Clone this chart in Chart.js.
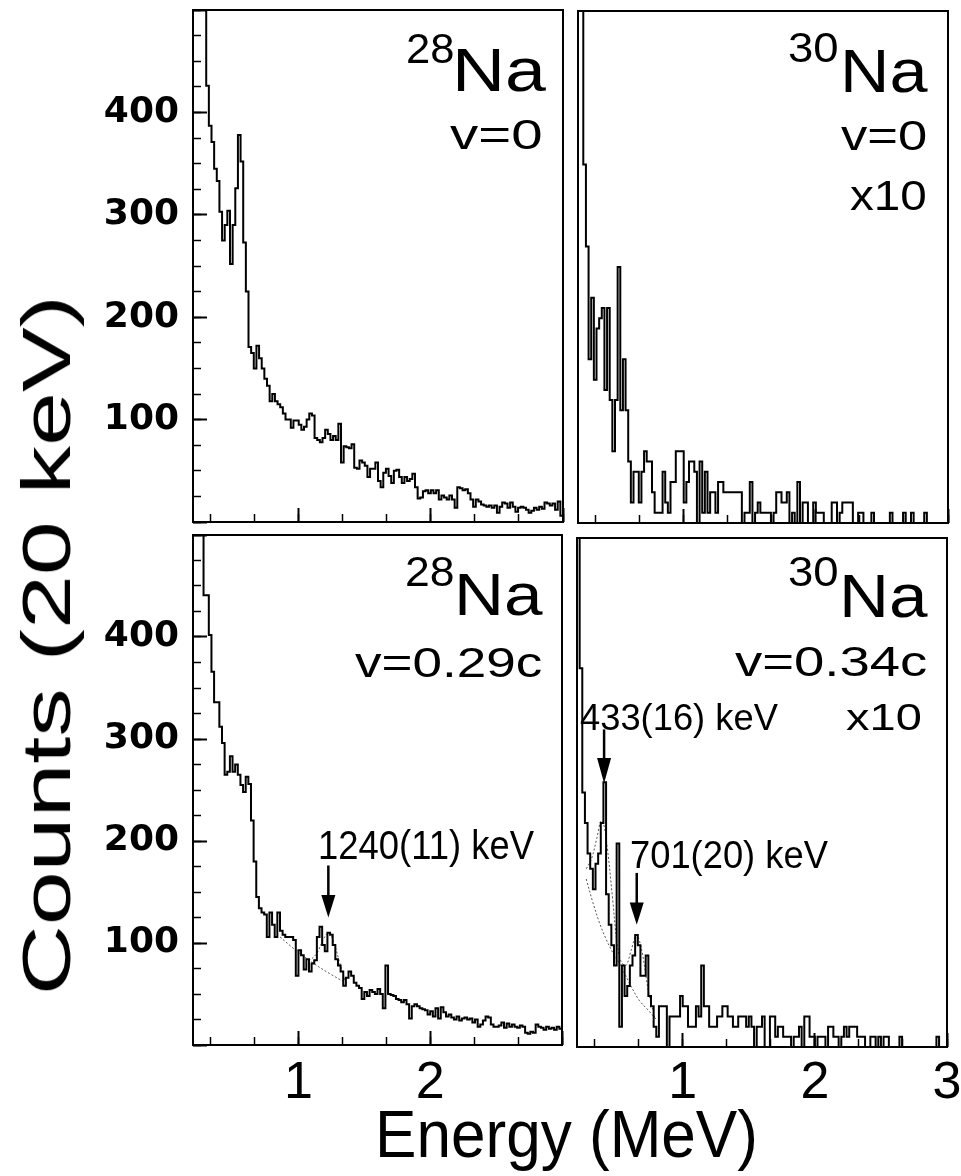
<!DOCTYPE html>
<html>
<head>
<meta charset="utf-8">
<script src="https://cdn.jsdelivr.net/npm/chart.js@4.4.1/dist/chart.umd.min.js"></script>
<style>
 html,body{margin:0;padding:0;background:#fff;}
 #page{position:relative;width:961px;height:1176px;overflow:hidden;background:#fff;}
 canvas{position:absolute;display:block;}
 .lbl{position:absolute;white-space:nowrap;font-family:"Liberation Sans",Arial,Helvetica,sans-serif;color:#000;line-height:1;transform-origin:0 0;}
</style>
</head>
<body>
<div id="page">
 <canvas id="pTL" width="570" height="528" style="left:0px;top:0px"></canvas>
 <canvas id="pTR" width="391" height="528" style="left:570px;top:0px"></canvas>
 <canvas id="pBL" width="570" height="648" style="left:0px;top:528px"></canvas>
 <canvas id="pBR" width="391" height="648" style="left:570px;top:528px"></canvas>
</div>
<script>
// ---------------- DATA ----------------
const BIN_MEV = 0.02;                       // 20 keV bins
const X_RANGE = [0.2, 3.0];                 // MeV
const Y_RANGE = [0, 500];                   // counts / 20 keV
const yMajorTicks = [0, 100, 200, 300, 400, 500];
const yTickLabels = [100, 200, 300, 400];
const yMinorTicks = [0, 25, 50, 75, 100, 125, 150, 175, 200, 225, 250, 275, 300, 325, 350, 375, 400, 425, 450, 475, 500];
const xMajorTicks = [1, 2, 3];
const xMinorTicks = [0.333, 0.667, 1, 1.333, 1.667, 2, 2.333, 2.667, 3];
const xTickLabelsLeft = [1, 2];
const xTickLabelsRight = [1, 2, 3];

// 28Na, v = 0  (first bin starts at 0.28 MeV; 520 = off scale)
const na28RestStart = 0.28;
const na28RestCounts = [
 520, 426, 387, 371, 345, 333, 303, 275, 290, 304,
 252, 290, 326, 378, 352, 273, 225, 171, 165, 150,
 172, 160, 150, 140, 133, 118, 125, 118, 115, 112,
 106, 100, 100, 92, 99, 99, 95, 90, 93, 100,
 106, 104, 82, 80, 78, 82, 90, 86, 80, 84,
 80, 96, 58, 74, 73, 72, 76, 53, 52, 60,
 58, 55, 44, 52, 52, 58, 40, 34, 48, 52,
 45, 38, 50, 51, 44, 38, 44, 40, 42, 47,
 34, 23, 24, 30, 31, 28, 31, 28, 31, 22,
 26, 24, 22, 26, 22, 14, 34, 33, 31, 32,
 28, 22, 15, 22, 20, 17, 16, 15, 16, 14,
 16, 9, 15, 19, 18, 14, 19, 15, 10, 14,
 15, 14, 12, 9, 11, 14, 12, 15, 13, 19,
 18, 16, 18, 12, 20, 6
];

// 30Na, v = 0, counts x10
const na30RestStart = 0.20;
const na30RestCounts = [
 520, 520, 350, 270, 160, 220, 140, 190, 200, 210,
 130, 210, 120, 70, 120, 250, 110, 160, 110, 60,
 20, 50, 50, 20, 50, 70, 60, 60, 30, 10,
 10, 10, 50, 20, 10, 40, 40, 70, 70, 70,
 20, 40, 60, 60, 50, 0, 60, 10, 50, 10,
 30, 30, 10, 40, 40, 30, 30, 30, 30, 30,
 30, 30, 0, 10, 10, 40, 0, 10, 20, 10,
 10, 10, 10, 0, 10, 30, 30, 20, 20, 30,
 0, 10, 0, 40, 0, 20, 20, 0, 0, 20,
 10, 10, 10, 0, 0, 0, 20, 20, 0, 10,
 20, 20, 20, 20, 0, 0, 10, 10, 0, 0,
 0, 10, 0, 0, 0, 0, 0, 0, 10, 0,
 0, 0, 0, 10, 0, 0, 10, 0, 0, 0,
 0, 10, 0, 0, 0, 0, 0, 0, 0, 0
];

// 28Na, v = 0.29c
const na28FastStart = 0.26;
const na28FastCounts = [
 520, 441, 441, 402, 366, 336, 336, 312, 296, 265,
 268, 283, 268, 275, 265, 255, 248, 263, 256, 220,
 180, 145, 134, 130, 128, 106, 130, 118, 106, 130,
 112, 108, 106, 106, 106, 103, 68, 93, 88, 74,
 84, 72, 80, 83, 106, 116, 98, 92, 110, 108,
 98, 84, 78, 72, 58, 66, 72, 68, 61, 58,
 56, 45, 52, 48, 54, 52, 50, 55, 50, 36,
 78, 50, 49, 48, 45, 44, 42, 44, 40, 26,
 38, 40, 38, 36, 35, 34, 30, 33, 28, 36,
 26, 37, 32, 28, 30, 27, 25, 28, 24, 26,
 27, 25, 26, 22, 25, 18, 20, 24, 28, 27,
 20, 18, 18, 19, 22, 17, 21, 18, 20, 18,
 17, 19, 18, 12, 11, 13, 12, 20, 18, 17,
 15, 18, 16, 17, 15, 18, 16
];
const na28FastBgE   = [0.86, 0.95, 1.05, 1.15, 1.25, 1.36];
const na28FastBg    = [106, 96, 86, 77, 69, 61];
const na28FastFitE  = [1.08, 1.14, 1.19, 1.23, 1.27, 1.31, 1.36];
const na28FastFit   = [82, 90, 104, 110, 100, 82, 61];

// 30Na, v = 0.34c, counts x10
const na30FastStart = 0.20;
const na30FastCounts = [
 520, 372, 250, 220, 190, 175, 155, 180, 190, 220,
 260, 150, 120, 100, 80, 200, 20, 80, 50, 60,
 80, 90, 110, 100, 70, 70, 90, 50, 40, 20,
 10, 40, 40, 40, 0, 30, 30, 30, 30, 50,
 40, 40, 20, 20, 20, 40, 30, 80, 40, 40,
 20, 20, 20, 30, 30, 40, 40, 30, 30, 20,
 20, 30, 30, 30, 20, 30, 20, 0, 20, 20,
 30, 0, 0, 30, 30, 10, 20, 20, 10, 10,
 10, 0, 10, 10, 20, 0, 30, 30, 10, 10,
 0, 10, 10, 10, 0, 20, 20, 10, 10, 0,
 10, 20, 10, 20, 20, 20, 10, 10, 10, 0,
 0, 10, 10, 0, 10, 0, 10, 10, 0, 0,
 0, 0, 10, 0, 0, 0, 0, 0, 0, 0,
 0, 0, 0, 0, 0, 0, 10, 0, 0, 0
];
const na30FastBgE  = [0.27, 0.32, 0.37, 0.42, 0.47, 0.53, 0.60, 0.67, 0.74, 0.80];
const na30FastBg   = [165, 142, 122, 106, 93, 80, 62, 46, 36, 27];
const na30FastFitE = [0.27, 0.31, 0.35, 0.38, 0.40, 0.43, 0.47, 0.50, 0.53, 0.57, 0.61, 0.65, 0.69, 0.74, 0.79];
const na30FastFit  = [175, 185, 205, 222, 220, 195, 145, 105, 85, 80, 95, 110, 95, 55, 28];

// peak markers: energy position of arrow (MeV), arrow top / head start / tip (counts)
const na28FastArrowE = [1.227];  const na28FastArrowY = [[176, 147, 125]];
const na30FastArrowE = [0.405, 0.652]; const na30FastArrowY = [[312, 284, 259], [171, 142, 120]];

// ---------------- HELPERS ----------------
function histPoints(start, counts) {
  const pts = counts.map((c, i) => ({x: +(start + i * BIN_MEV).toFixed(4), y: c}));
  pts.push({x: +(start + counts.length * BIN_MEV).toFixed(4), y: counts[counts.length - 1]});
  return pts;
}
function curvePoints(xs, ys) { return xs.map((x, i) => ({x: x, y: ys[i]})); }

const framePlugin = {
  id: 'frame',
  afterDatasetsDraw(chart) {
    const {ctx, chartArea: a} = chart;
    ctx.save(); ctx.strokeStyle = '#000'; ctx.lineWidth = 2;
    ctx.strokeRect(a.left, a.top, a.right - a.left, a.bottom - a.top);
    ctx.restore();
  }
};
const arrowPlugin = {
  id: 'arrows',
  afterDatasetsDraw(chart, args, opts) {
    const list = (opts && opts.list) || [];
    const {ctx} = chart; const xs = chart.scales.x, ys = chart.scales.y;
    ctx.save(); ctx.strokeStyle = '#000'; ctx.fillStyle = '#000'; ctx.lineWidth = 2.5;
    list.forEach(a => {
      const px = xs.getPixelForValue(a.e);
      const y0 = ys.getPixelForValue(a.y[0]), y1 = ys.getPixelForValue(a.y[1]), y2 = ys.getPixelForValue(a.y[2]);
      ctx.beginPath(); ctx.moveTo(px, y0); ctx.lineTo(px, y1 + 1); ctx.stroke();
      ctx.beginPath(); ctx.moveTo(px - 7, y1); ctx.lineTo(px + 7, y1); ctx.lineTo(px, y2); ctx.closePath(); ctx.fill();
    });
    ctx.restore();
  }
};

function makePanel(id, p) {
  const datasets = [{
    data: histPoints(p.start, p.counts), stepped: 'before', borderColor: '#000', borderWidth: 2,
    pointRadius: 0, fill: false, tension: 0, borderJoinStyle: 'miter', borderCapStyle: 'butt'
  }];
  (p.curves || []).forEach(c => datasets.push({
    data: curvePoints(c[0], c[1]), borderColor: '#555', borderWidth: 1, borderDash: [2, 2],
    pointRadius: 0, fill: false, tension: 0.35
  }));
  const tickFontX = {family: 'Liberation Sans', size: 52};
  const lh = 52 * 1.2;
  const xPad = p.xLabels ? (1084 - p.canvasTop - p.area.bottom + 14 - lh / 2) : 0;
  const scales = {
    x: {
      type: 'linear', position: 'bottom', min: X_RANGE[0], max: X_RANGE[1], weight: 1,
      afterBuildTicks: s => { s.ticks = xMajorTicks.map(v => ({value: v})); },
      ticks: {display: !!p.xLabels, autoSkip: false, maxRotation: 0, minRotation: 0, padding: xPad,
        font: tickFontX, color: '#000',
        callback: v => (p.xLabels && p.xLabels.includes(v)) ? String(v) : ''},
      grid: {drawOnChartArea: false, drawTicks: true, tickLength: -14, tickWidth: 2, tickColor: '#000'},
      border: {display: false},
      afterFit: s => { s.height = p.xH; s.paddingLeft = 0; s.paddingRight = 0; }
    },
    xMinor: {
      type: 'linear', position: 'bottom', min: X_RANGE[0], max: X_RANGE[1], weight: -1,
      afterBuildTicks: s => { s.ticks = xMinorTicks.map(v => ({value: v})); },
      ticks: {display: false},
      grid: {drawOnChartArea: false, drawTicks: true, tickLength: -8, tickWidth: 1.5, tickColor: '#000'},
      border: {display: false},
      afterFit: s => { s.height = 0; s.paddingLeft = 0; s.paddingRight = 0; }
    },
    y: {
      type: 'linear', position: 'left', min: Y_RANGE[0], max: Y_RANGE[1], weight: 1, display: p.yTicks,
      afterBuildTicks: s => { s.ticks = yMajorTicks.map(v => ({value: v})); },
      ticks: {display: true, autoSkip: false, padding: 28, color: '#000',
        font: {family: 'DejaVu Sans', size: 36, weight: 'bold'},
        callback: v => (p.yLabels && yTickLabels.includes(v)) ? String(v) : ''},
      grid: {drawOnChartArea: false, drawTicks: true, tickLength: -14, tickWidth: 2, tickColor: '#000'},
      border: {display: false},
      afterFit: s => { s.width = p.yW; s.paddingTop = 0; s.paddingBottom = 0; }
    },
    yMinor: {
      type: 'linear', position: 'left', min: Y_RANGE[0], max: Y_RANGE[1], weight: -1, display: p.yTicks,
      afterBuildTicks: s => { s.ticks = yMinorTicks.map(v => ({value: v})); },
      ticks: {display: false},
      grid: {drawOnChartArea: false, drawTicks: true, tickLength: -8, tickWidth: 1.5, tickColor: '#000'},
      border: {display: false},
      afterFit: s => { s.width = 0; s.paddingTop = 0; s.paddingBottom = 0; }
    }
  };
  return new Chart(document.getElementById(id), {
    type: 'line',
    data: {datasets: datasets},
    options: {
      responsive: false, animation: false, devicePixelRatio: 1,
      layout: {padding: p.pad},
      plugins: {legend: {display: false}, tooltip: {enabled: false}, title: {display: false},
        arrows: {list: p.arrows || []}},
      scales: scales
    },
    plugins: [framePlugin, arrowPlugin]
  });
}

makePanel('pTL', {start: na28RestStart, counts: na28RestCounts, canvasTop: 0,
  area: {bottom: 522}, pad: {left: 0, top: 10, right: 7, bottom: 0}, yW: 193, xH: 6,
  yTicks: true, yLabels: true, xLabels: null});
makePanel('pTR', {start: na30RestStart, counts: na30RestCounts, canvasTop: 0,
  area: {bottom: 523}, pad: {left: 8, top: 11, right: 13, bottom: 0}, yW: 0, xH: 5,
  yTicks: false, yLabels: false, xLabels: null});
makePanel('pBL', {start: na28FastStart, counts: na28FastCounts, canvasTop: 528,
  area: {bottom: 517}, pad: {left: 0, top: 7, right: 8, bottom: 0}, yW: 193, xH: 131,
  yTicks: true, yLabels: true, xLabels: xTickLabelsLeft,
  curves: [[na28FastBgE, na28FastBg], [na28FastFitE, na28FastFit]],
  arrows: na28FastArrowE.map((e, i) => ({e: e, y: na28FastArrowY[i]}))});
makePanel('pBR', {start: na30FastStart, counts: na30FastCounts, canvasTop: 528,
  area: {bottom: 519}, pad: {left: 7, top: 10, right: 14, bottom: 0}, yW: 0, xH: 129,
  yTicks: false, yLabels: false, xLabels: xTickLabelsRight,
  curves: [[na30FastBgE, na30FastBg], [na30FastFitE, na30FastFit]],
  arrows: na30FastArrowE.map((e, i) => ({e: e, y: na30FastArrowY[i]}))});

// ---------------- TEXT ----------------
const page = document.getElementById('page');
function addText(s) {
  const el = document.createElement('div');
  el.className = 'lbl';
  const size = s.h / 0.716;
  el.style.fontSize = size + 'px';
  el.textContent = s.t;
  page.appendChild(el);
  const nw = el.getBoundingClientRect().width;
  const sx = s.w / Math.max(1, nw - 0.08 * size);
  el.style.left = (s.x - 0.045 * size * sx) + 'px';
  el.style.top = (s.top - 0.1305 * size) + 'px';
  el.style.transform = 'scaleX(' + sx.toFixed(4) + ')';
}
function addRotated(s) {
  const el = document.createElement('div');
  el.className = 'lbl';
  const size = s.h / 0.716;
  el.style.fontSize = size + 'px';
  el.textContent = s.t;
  page.appendChild(el);
  const nw = el.getBoundingClientRect().width;
  const sx = s.len / nw;
  el.style.left = (s.cx - nw / 2) + 'px';
  el.style.top = (s.cy - size / 2) + 'px';
  el.style.transformOrigin = '50% 50%';
  el.style.transform = 'rotate(-90deg) scaleX(' + sx.toFixed(4) + ')';
}
[
  {t: '28', x: 408, top: 33, h: 30, w: 45},
  {t: 'Na', x: 455, top: 47, h: 44, w: 88},
  {t: 'v=0', x: 453, top: 119, h: 31, w: 88},
  {t: '30', x: 790, top: 32, h: 30, w: 47},
  {t: 'Na', x: 843, top: 48, h: 44, w: 82},
  {t: 'v=0', x: 843, top: 120, h: 31, w: 82},
  {t: 'x10', x: 852, top: 180, h: 30, w: 73},
  {t: '28', x: 407, top: 556, h: 31, w: 46},
  {t: 'Na', x: 457, top: 573, h: 43, w: 83},
  {t: 'v=0.29c', x: 357, top: 647, h: 30, w: 183},
  {t: '1240(11) keV', x: 320, top: 830, h: 29, w: 213},
  {t: '30', x: 790, top: 556, h: 30, w: 47},
  {t: 'Na', x: 842, top: 573, h: 44, w: 83},
  {t: 'v=0.34c', x: 737, top: 646, h: 30, w: 188},
  {t: '433(16) keV', x: 582, top: 704, h: 27, w: 195},
  {t: 'x10', x: 848, top: 704, h: 27, w: 72},
  {t: '701(20) keV', x: 632, top: 840, h: 28, w: 195},
  {t: 'Energy (MeV)', x: 378, top: 1109, h: 48, w: 378}
].forEach(addText);
addRotated({t: 'Counts (20 keV)', cx: 47, cy: 645, h: 49, len: 700});
</script>
</body>
</html>
